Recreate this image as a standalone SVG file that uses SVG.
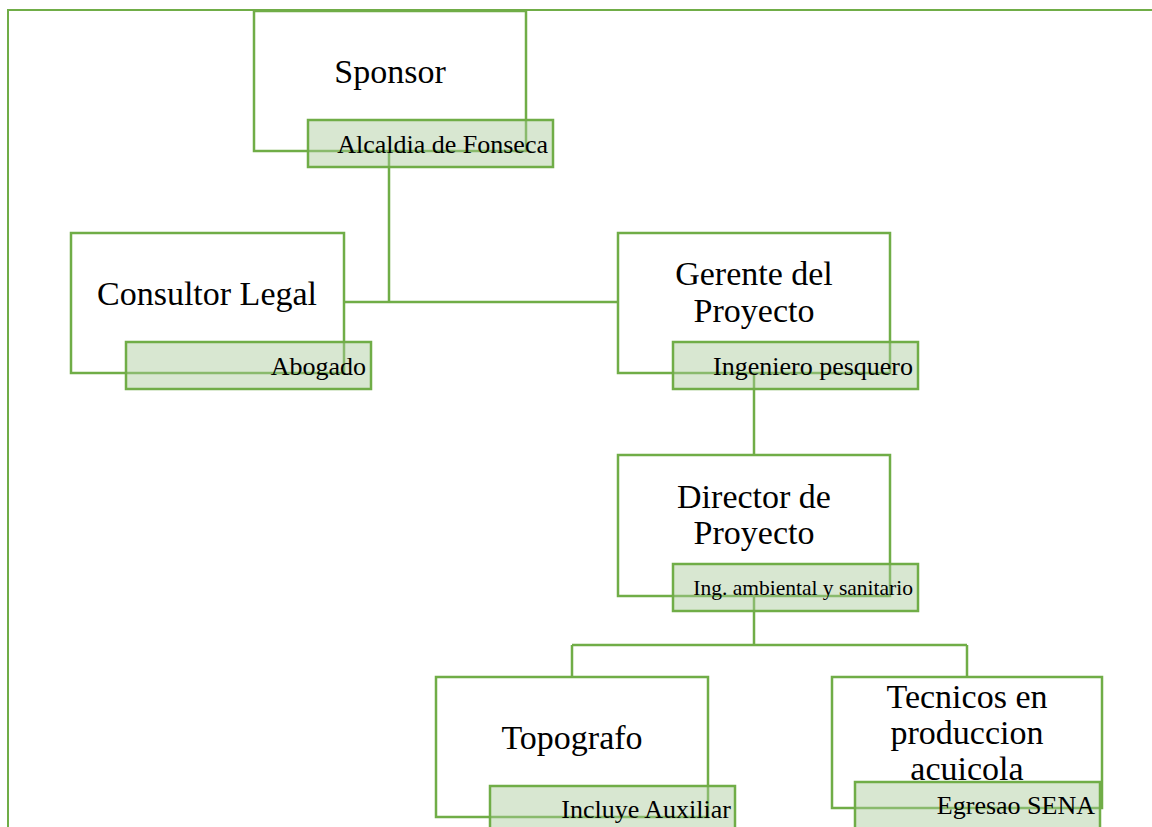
<svg xmlns="http://www.w3.org/2000/svg" width="1152" height="827" viewBox="0 0 1152 827">
<style>
.frame{fill:none;stroke:#70ad47;stroke-width:2}
.box{fill:#ffffff;stroke:#70ad47;stroke-width:2.5}
.lab{fill:#a9c99a;fill-opacity:0.45;stroke:#70ad47;stroke-width:2.5}
.conn{fill:none;stroke:#70ad47;stroke-width:2.5}
.t{font-family:"Liberation Serif","Times New Roman",serif;font-size:34px;fill:#000;text-anchor:middle}
.l{font-family:"Liberation Serif","Times New Roman",serif;font-size:26px;fill:#000;text-anchor:end}
.s{font-size:21.5px}
</style>
<rect width="1152" height="827" fill="#ffffff"/>
<path class="frame" d="M8,840 V10 H1160"/>
<g id="connectors">
<path class="conn" d="M389,151 V302 M344,302 H618"/>
<path class="conn" d="M754,373 V455"/>
<path class="conn" d="M754,596 V645 M572,645 H967 M572,645 V677 M967,645 V677"/>
</g>
<g id="sponsor">
<rect class="box" x="254" y="11" width="272" height="140"/>
<text class="t" x="390" y="83">Sponsor</text>
<rect class="lab" x="308" y="120" width="245" height="47"/>
<text class="l" x="548" y="153">Alcaldia de Fonseca</text>
</g>
<g id="consultor">
<rect class="box" x="71" y="233" width="273" height="140"/>
<text class="t" x="207" y="305">Consultor Legal</text>
<rect class="lab" x="126" y="342" width="245" height="47"/>
<text class="l" x="366" y="375">Abogado</text>
</g>
<g id="gerente">
<rect class="box" x="618" y="233" width="272" height="140"/>
<text class="t" x="754" y="285">Gerente del</text>
<text class="t" x="754" y="322">Proyecto</text>
<rect class="lab" x="673" y="342" width="245" height="47"/>
<text class="l" x="913" y="375">Ingeniero pesquero</text>
</g>
<g id="director">
<rect class="box" x="618" y="455" width="272" height="141"/>
<text class="t" x="754" y="508">Director de</text>
<text class="t" x="754" y="544">Proyecto</text>
<rect class="lab" x="673" y="564" width="245" height="47"/>
<text class="l s" x="913" y="595">Ing. ambiental y sanitario</text>
</g>
<g id="topografo">
<rect class="box" x="436" y="677" width="272" height="140"/>
<text class="t" x="572" y="749">Topografo</text>
<rect class="lab" x="490" y="786" width="245" height="47"/>
<text class="l" x="731" y="818">Incluye Auxiliar</text>
</g>
<g id="tecnicos">
<rect class="box" x="832" y="677" width="270" height="131"/>
<text class="t" x="967" y="708">Tecnicos en</text>
<text class="t" x="967" y="744">produccion</text>
<text class="t" x="967" y="780">acuicola</text>
<rect class="lab" x="855" y="782" width="245" height="55"/>
<text class="l" x="1095" y="814">Egresao SENA</text>
</g>
</svg>
